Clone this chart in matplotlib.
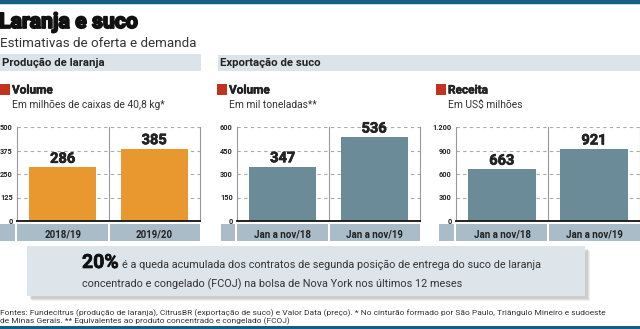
import matplotlib
matplotlib.use("Agg")
import matplotlib.pyplot as plt
import matplotlib.patheffects as pe
from matplotlib.patches import Rectangle

# data
prod_cats = ["2018/19", "2019/20"]
prod_vals = [286, 385]
prod_ticks = [0, 125, 250, 375, 500]

exp_cats = ["Jan a nov/18", "Jan a nov/19"]
vol_vals = [347, 536]
vol_ticks = [0, 150, 300, 450, 600]
rec_vals = [663, 921]
rec_ticks = [0, 300, 600, 900, 1200]
rec_ticklabels = ["0", "300", "600", "900", "1.200"]

FONT = ["Roboto", "DejaVu Sans"]
W, H = 640, 329
ORANGE = "#E8982F"
STEEL = "#6B8B99"
BAND = "#A9BCC7"
HEAD = "#DCE3E9"
RED = "#C1331F"
DARKBLUE = "#135F85"

fig = plt.figure(figsize=(6.4, 3.29), dpi=100)

# background axes in pixel coords
bg = fig.add_axes([0, 0, 1, 1])
bg.set_xlim(0, W)
bg.set_ylim(H, 0)
bg.axis("off")

def rect(x0, y0, x1, y1, color, **kw):
    bg.add_patch(Rectangle((x0, y0), x1 - x0, y1 - y0, color=color, lw=0, **kw))

def txt(x, y, s, size, weight="normal", color="#222222", **kw):
    return bg.text(x, y, s, fontsize=size, fontweight=weight, color=color,
                   family=FONT, **kw)

def heavy(t, w):
    t.set_path_effects([pe.withStroke(linewidth=w, foreground=t.get_color())])

# top and bottom rules
rect(0, 0, W, 4, DARKBLUE)
rect(0, 4, W, 5, "#BFDCEA")
rect(0, 326, W, H, DARKBLUE)

# titles
heavy(txt(-1, 28, "Laranja e suco", 15.3, "bold", color="#111111"), 1.3)
txt(0, 47, "Estimativas de oferta e demanda", 9.6, color="#333333")

# section headers
rect(0, 54, 201, 71, HEAD)
txt(2, 63, "Produção de laranja", 8.2, "bold", va="center")
rect(218, 55, W, 71, HEAD)
txt(220, 63, "Exportação de suco", 8.2, "bold", va="center")

# chart sub headers
for x, title, sub in [(0, "Volume", "Em milhões de caixas de 40,8 kg*"),
                      (217, "Volume", "Em mil toneladas**"),
                      (436, "Receita", "Em US$ milhões")]:
    rect(x, 84, x + 10, 95, RED)
    heavy(txt(x + 12, 90, title, 8.5, "bold", va="center"), 0.4)
    txt(x + 12, 105, sub, 7.4, color="#333333", va="center")

def chart(x0, x1, cats, vals, ticks, color, stub, ticklabels=None):
    ax = fig.add_axes([x0 / W, 1 - 221 / H, (x1 - x0) / W, (221 - 127) / H])
    ax.patch.set_alpha(0)
    xs = range(len(cats))
    ax.bar(xs, vals, width=0.73, color=color, zorder=3)
    for x, v in zip(xs, vals):
        lab = ax.text(x, v + ticks[-1] * 0.015, str(v), ha="center", va="bottom",
                      fontsize=10.5, fontweight="bold", color="#222222", family=FONT)
        heavy(lab, 0.5)
    ax.set_xlim(-0.5, len(cats) - 0.5)
    ax.set_ylim(0, ticks[-1])
    ax.set_yticks(ticks)
    ax.set_yticklabels(ticklabels or [str(t) for t in ticks])
    for lab in ax.get_yticklabels():
        lab.set_fontweight("bold")
        lab.set_family(FONT)
    ax.tick_params(axis="y", length=0, labelsize=5.3, pad=3, colors="#222222")
    ax.set_xticks(list(xs))
    ax.set_xticklabels(cats, fontsize=7, fontweight="bold", family=FONT)
    ax.tick_params(axis="x", length=0, pad=6, colors="#222222")
    for t in ticks[1:]:
        ax.axhline(t, color="#AAAAAA", lw=0.8, ls=(0, (3, 3)), zorder=1)
    ax.axvline(0.5, color="#999999", lw=0.8, zorder=1)
    ax.spines["top"].set_visible(False)
    for s in ("left", "right"):
        ax.spines[s].set_color("#999999")
        ax.spines[s].set_linewidth(0.8)
    ax.spines["bottom"].set_color("#222222")
    ax.spines["bottom"].set_linewidth(1.4)
    ax.spines["bottom"].set_zorder(4)
    # category band
    mid = (x0 + x1) / 2
    rect(stub, 224, x0 - 2, 241, BAND)
    rect(x0, 224, mid - 1, 241, BAND)
    rect(mid + 1, 224, x1, 241, BAND)
    return ax

chart(17, 200, prod_cats, prod_vals, prod_ticks, ORANGE, 0)
chart(237, 420, exp_cats, vol_vals, vol_ticks, STEEL, 221)
chart(456, 640, exp_cats, rec_vals, rec_ticks, STEEL, 439, rec_ticklabels)

# callout box with shadow
for d, a in [(5, 0.12), (4, 0.16), (3, 0.2)]:
    rect(27 + d, 246 + d, 585 + d, 296 + d, "#888888", alpha=a)
rect(27, 246, 585, 296, "#DDE5EB")
heavy(txt(82, 268, "20%", 14, "bold", color="#111111"), 0.5)
txt(122, 268, "é a queda acumulada dos contratos de segunda posição de entrega do suco de laranja",
    7.8, color="#333333")
txt(82, 287, "concentrado e congelado (FCOJ) na bolsa de Nova York nos últimos 12 meses",
    7.8, color="#333333")

# footnote
txt(0, 315, "Fontes: Fundecitrus (produção de laranja), CitrusBR (exportação de suco) e Valor Data (preço). "
    "* No cinturão formado por São Paulo, Triângulo Mineiro e sudoeste", 6.0, color="#333333")
txt(0, 323, "de Minas Gerais. ** Equivalentes ao produto concentrado e congelado (FCOJ)",
    6.0, color="#333333")

fig.savefig("out.png", dpi=100, facecolor="white")
